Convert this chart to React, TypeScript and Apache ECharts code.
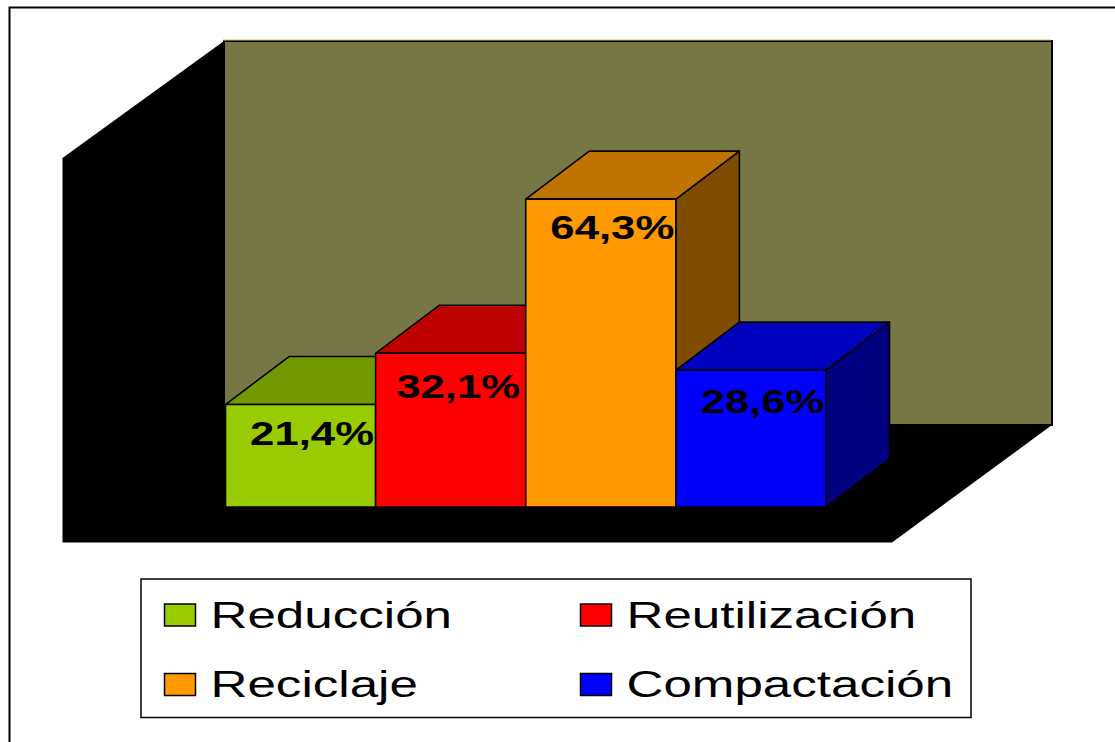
import React, { useEffect, useRef } from "react";
import * as echarts from "echarts";

const categories = ["Reducción", "Reutilización", "Reciclaje", "Compactación"];
const percentValues = [21.4, 32.1, 64.3, 28.6];
const percentLabels = ["21,4%", "32,1%", "64,3%", "28,6%"];
const barColors = ["#99CC00", "#FF0000", "#FF9900", "#0000FF"];
const labelNudgeX = [0, -4, 0, 0];
const labelNudgeY = [-1, 3, -1, 2];

const FONT = '"Liberation Sans", Arial, sans-serif';
const DEPTH_X = 63.5;
const DEPTH_Y = -48;

function shade(hex: string, f: number) {
  const n = parseInt(hex.slice(1), 16);
  const c = (v: number) => Math.round(v * f);
  return `rgb(${c((n >> 16) & 255)},${c((n >> 8) & 255)},${c(n & 255)})`;
}

const renderBar = (params: any, api: any) => {
  const i = api.value(0);
  const top = api.coord([i, api.value(1)]);
  const base = api.coord([i, 0]);
  const band = api.size([1, 0])[0];
  const x0 = top[0] - band / 2;
  const x1 = top[0] + band / 2;
  const y0 = top[1];
  const y1 = base[1];
  const color = barColors[i];
  const edge = { stroke: "#000", lineWidth: 1.6, lineJoin: "round" };
  return {
    type: "group",
    children: [
      {
        type: "polygon",
        shape: { points: [[x1, y0], [x1 + DEPTH_X, y0 + DEPTH_Y], [x1 + DEPTH_X, y1 + DEPTH_Y], [x1, y1]] },
        style: { fill: shade(color, 0.5), ...edge },
      },
      {
        type: "polygon",
        shape: { points: [[x0, y0], [x0 + DEPTH_X, y0 + DEPTH_Y], [x1 + DEPTH_X, y0 + DEPTH_Y], [x1, y0]] },
        style: { fill: shade(color, 0.75), ...edge },
      },
      {
        type: "rect",
        shape: { x: x0, y: y0, width: band, height: y1 - y0 },
        style: { fill: color, ...edge },
      },
      {
        type: "text",
        x: top[0] + 11.5 + labelNudgeX[i],
        y: y0 + 29.5 + labelNudgeY[i],
        scaleX: 1.286,
        style: {
          text: percentLabels[i],
          fontFamily: FONT,
          fontWeight: "bold",
          fontSize: 34,
          fill: "#000",
          textAlign: "center",
          textVerticalAlign: "middle",
        },
      },
    ],
  };
};

const legendCols = [164.5, 580.5];
const legendRows = [604, 673.5];

const legendItems = categories.flatMap((name, i) => {
  const x = legendCols[i % 2];
  const y = legendRows[Math.floor(i / 2)];
  return [
    {
      type: "rect",
      shape: { x, y, width: 31, height: 22 },
      style: { fill: barColors[i], stroke: "#000", lineWidth: 1.5 },
      z: 5,
    },
    {
      type: "text",
      x: x + 46,
      y: y + 11,
      scaleX: 1.42,
      style: {
        text: name,
        fontFamily: FONT,
        fontSize: 36,
        fill: "#000",
        textAlign: "left",
        textVerticalAlign: "middle",
      },
      z: 5,
    },
  ];
});

export default function App() {
  const ref = useRef<HTMLDivElement>(null);
  useEffect(() => {
    const chart = echarts.init(ref.current!, null, { renderer: "svg" });
    chart.setOption({
      animation: false,
      backgroundColor: "#fff",
      grid: { left: 225.5, width: 600.5, top: 124, height: 383, containLabel: false },
      xAxis: { type: "category", data: categories, show: false },
      yAxis: { type: "value", min: 0, max: 80, show: false },
      graphic: [
        { type: "rect", shape: { x: 9.5, y: 7.5, width: 1300, height: 900 }, style: { fill: "#fff", stroke: "#000", lineWidth: 2 }, z: -10 },
        { type: "polygon", shape: { points: [[62.5, 158], [224, 41], [224, 425], [1052, 425], [892, 542.5], [62.5, 542.5]] }, style: { fill: "#000" }, z: -5 },
        { type: "rect", shape: { x: 224, y: 41, width: 828, height: 384 }, style: { fill: "#777746", stroke: "#000", lineWidth: 2 }, z: -4 },
        { type: "line", shape: { x1: 223, y1: 40, x2: 1051, y2: 40 }, style: { stroke: "#C8C84A", lineWidth: 1 }, z: -3 },
        { type: "rect", shape: { x: 141, y: 579, width: 830, height: 138.5 }, style: { fill: "#fff", stroke: "#000", lineWidth: 1.5 }, z: 4 },
        ...legendItems,
      ],
      series: [
        {
          type: "custom",
          name: "Porcentaje",
          coordinateSystem: "cartesian2d",
          renderItem: renderBar,
          clip: false,
          encode: { x: 0, y: 1 },
          data: percentValues.map((v, i) => [i, v]),
          silent: true,
        },
      ],
    });
    return () => chart.dispose();
  }, []);
  return <div ref={ref} style={{ position: "fixed", left: 0, top: 0, width: 1115, height: 742 }} />;
}
